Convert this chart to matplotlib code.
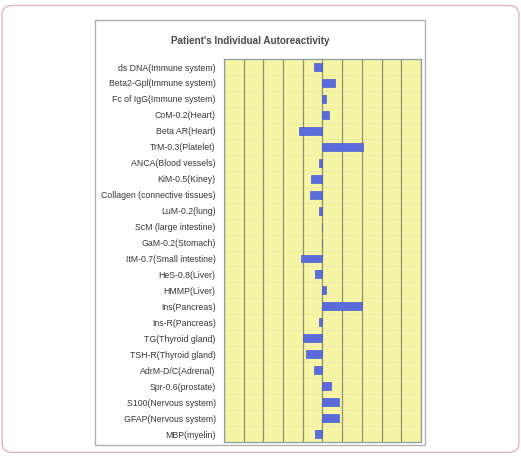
import numpy as np
import matplotlib.pyplot as plt
from matplotlib.patches import FancyBboxPatch, Rectangle

# categories (top to bottom) and autoreactivity values
categories = ['ds DNA(Immune system)', 'Beta2-Gpl(Immune system)', 'Fc of IgG(Immune system)',
              'CoM-0.2(Heart)', 'Beta AR(Heart)', 'TrM-0.3(Platelet)', 'ANCA(Blood vessels)',
              'KiM-0.5(Kiney)', 'Collagen (connective tissues)', 'LuM-0.2(lung)',
              'ScM (large intestine)', 'GaM-0.2(Stomach)', 'ItM-0.7(Small intestine)',
              'HeS-0.8(Liver)', 'HMMP(Liver)', 'Ins(Pancreas)', 'Ins-R(Pancreas)',
              'TG(Thyroid gland)', 'TSH-R(Thyroid gland)', 'AdrM-D/C(Adrenal)',
              'Spr-0.6(prostate)', 'S100(Nervous system)', 'GFAP(Nervous system)', 'MBP(myelin)']
values = [-0.42, 0.64, 0.19, 0.34, -1.17, 2.08, -0.17,
          -0.59, -0.66, -0.17,
          -0.05, -0.05, -1.08,
          -0.36, 0.17, 2.0, -0.17,
          -1.0, -0.85, -0.42,
          0.41, 0.83, 0.86, -0.36]

plt.rcParams['font.family'] = ['Liberation Sans', 'DejaVu Sans']

fig = plt.figure(figsize=(5.21, 4.57), dpi=100)

# outer rounded frame and white panel (kept behind the axes)
fig.patches.append(FancyBboxPatch((0.004, 0.01), 0.992, 0.978, boxstyle='round,pad=0,rounding_size=0.02',
                                  transform=fig.transFigure, facecolor='white',
                                  edgecolor='#e3b3c4', linewidth=1.0, zorder=-10))
fig.patches.append(Rectangle((0.1823, 0.0252), 0.6334, 0.930, transform=fig.transFigure,
                             facecolor='white', edgecolor='#b0b0b0', linewidth=1.0, zorder=-9))

ax = fig.add_axes([0.430, 0.0328, 0.378, 0.838])
ax.set_zorder(1)
ax.set_facecolor('#f6f5a6')

y = np.arange(len(categories))
ax.barh(y, values, height=0.5, color='#5a6cdc', edgecolor='#4a5ccc', linewidth=0.5, zorder=3)

ax.set_xlim(-5, 5)
ax.set_ylim(len(categories) - 0.5, -0.5)
ax.set_xticks(np.arange(-5, 6))
ax.set_xticklabels([])
ax.tick_params(axis='x', length=0)
ax.grid(axis='x', color='#8f8f70', linewidth=0.9, zorder=1)
for yy in y:
    ax.axhline(yy + 0.5, color='#d8d8b0', linewidth=0.5, linestyle=':', zorder=1)

ax.set_yticks(y)
ax.set_yticklabels(categories, fontsize=6.3, color='#383838')
ax.tick_params(axis='y', length=0, pad=6)

for s in ax.spines.values():
    s.set_color('#8aa0a0')
    s.set_linestyle((0, (2, 1)))
    s.set_linewidth(0.9)

fig.text(0.48, 0.910, "Patient's Individual Autoreactivity", ha='center', va='center',
         fontsize=7.1, fontweight='bold', color='#4a4a4a', zorder=5)

fig.savefig('out.png', dpi=100)
